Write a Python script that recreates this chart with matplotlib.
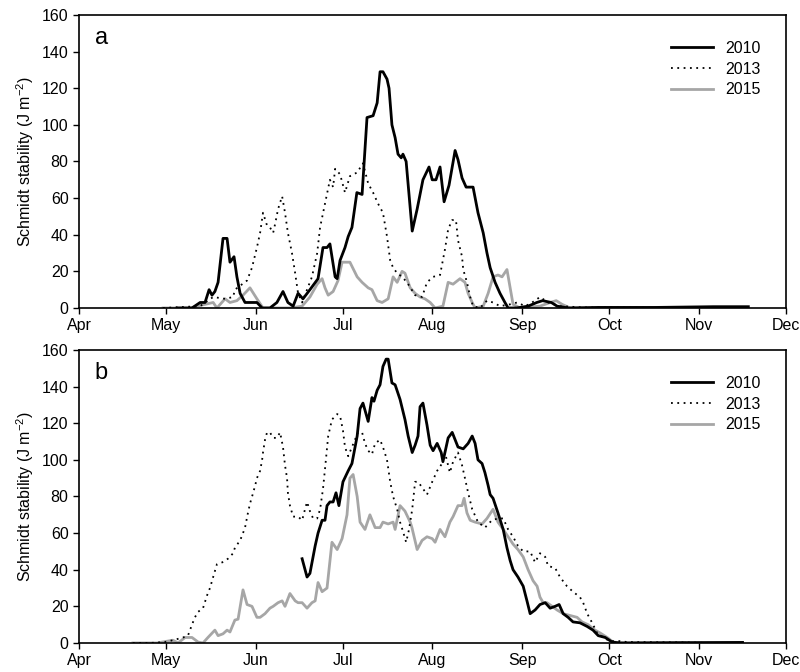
# Schmidt stability through the open-water season, three years, two panels
import numpy as np
import matplotlib.pyplot as plt

plt.rcParams['font.family'] = ['Liberation Sans', 'DejaVu Sans']
plt.rcParams['mathtext.default'] = 'regular'

# month ticks as day of year (non-leap)
month_days = [91, 121, 152, 182, 213, 244, 274, 305, 335]
month_labels = ['Apr', 'May', 'Jun', 'Jul', 'Aug', 'Sep', 'Oct', 'Nov', 'Dec']

# ---- panel a ----
a2010_day = [125, 130.0, 132.8, 134.5, 135.9, 136.9, 137.9, 139.0, 140.7, 142.1, 143.1, 144.5,
             145.5, 146.6, 148.3, 150.0, 152.4, 154.2, 156.9, 159.3, 161.4, 163.1, 164.9,
             166.6, 168.3, 170.7, 173.5, 175.2, 176.6, 177.6, 179.4, 180.1, 181.1, 182.8,
             183.9, 185.2, 186.9, 188.7, 190.4, 192.5, 193.9, 194.9, 195.9, 197.3, 198.0,
             199.0, 200.1, 201.1, 202.2, 202.8, 203.9, 206.0, 207.7, 209.7, 211.8, 212.9,
             214.2, 215.6, 217.0, 218.7, 220.8, 221.8, 223.2, 224.6, 227.0, 228.7, 230.5,
             231.8, 232.9, 234.6, 236.3, 238.0, 239.1, 242, 246, 249, 251, 254, 256, 260,
             270, 290, 300, 310, 322]
a2010_val = [0, 0, 3, 3, 10, 7, 9, 14, 38, 38, 25, 28,
             17, 8, 3, 3, 3, 0, 0, 3, 9, 3, 1,
             8, 5, 10, 16, 33, 33, 35, 17, 16, 26, 33,
             39, 44, 63, 62, 104, 105, 112, 129, 129, 125, 120,
             100, 93, 84, 82, 84, 80, 42, 54, 70, 77, 70,
             70, 77, 58, 67, 86, 81, 71, 66, 66, 52, 41,
             30, 22, 14, 8, 3, 0, 0, 1, 3, 4, 3, 1, 0,
             0.3, 0.3, 0.5, 0.7, 0.7]

a2013_day = [120, 132.8, 137.3, 141.4, 144.2, 144.8, 149.0, 150.7, 152.4, 153.5, 154.5, 155.9,
             156.9, 158.0, 158.7, 159.7, 161.1, 162.1, 163.1, 164.5, 165.6, 166.6, 168.0,
             169.7, 171.4, 173.2, 174.2, 175.9, 177.6, 178.7, 179.4, 181.1, 182.8, 184.5,
             187.0, 189.0, 190.8, 192.5, 194.2, 195.9, 197.3, 198.4, 199.4, 200.8, 202.5,
             204.2, 207.0, 209.4, 211.1, 213.2, 215.6, 217.3, 218.4, 219.8, 221.1, 221.8,
             223.2, 223.6, 224.9, 226.0, 227.0, 229.4, 231.8, 233.9, 236.3, 239.8, 242.2,
             245.0, 247.4, 250.1, 252.9, 257.0, 265, 280, 310]
a2013_val = [0, 1, 6, 5, 6, 10, 15, 22, 33, 41, 52, 45,
             44, 41, 46, 54, 61, 52, 41, 30, 19, 8, 3,
             10, 17, 30, 44, 57, 70, 66, 76, 73, 63, 72,
             74, 79, 68, 63, 57, 52, 39, 26, 22, 19, 17,
             14, 7, 6, 14, 17, 18, 32, 43, 48, 48, 37,
             28, 21, 14, 6, 1, 0, 4, 3, 1, 2, 3,
             1, 3, 6, 3, 1, 0.3, 0.2, 0]

a2015_day = [120, 129.3, 134.5, 137.3, 138.6, 141.4, 143.1, 145.5, 147.6, 150.0, 152.4, 154.5,
             156.9, 163.8, 168.0, 170.7, 173.2, 174.9, 175.9, 177.0, 178.7, 180.4, 181.8,
             182.8, 184.5, 187.0, 188.7, 190.8, 192.1, 193.9, 195.6, 197.7, 199.4, 200.8,
             202.5, 203.5, 205.3, 207.0, 208.7, 210.4, 212.2, 213.9, 216.6, 218.4, 220.1,
             222.5, 224.2, 225.3, 226.7, 227.7, 230.5, 232.2, 233.9, 235.6, 237.0, 238.7,
             239.8, 240.8, 243.2, 250.1, 253.6, 255.7, 257.7, 260.5, 300]
a2015_val = [0, 0, 2, 3, 0, 5, 3, 4, 7, 11, 5, 0,
             0, 0, 1, 6, 13, 16, 11, 7, 9, 15, 25,
             25, 25, 17, 14, 11, 10, 4, 3, 5, 17, 14,
             20, 19, 11, 8, 6, 5, 3, 0, 1, 14, 13,
             16, 14, 8, 3, 0, 1, 8, 17, 18, 17, 21,
             11, 2, 0, 1, 3, 4, 2, 0, 0]

# ---- panel b ----
b2010_day = [168.0, 169.7, 170.7, 172.5, 173.5, 174.9, 175.9, 176.6, 177.6, 178.7, 179.7, 180.7,
             182.1, 183.9, 185.2, 187.0, 188.0, 189.0, 190.8, 192.1, 192.8, 193.9, 194.9,
             195.9, 197.0, 197.7, 199.0, 200.1, 201.8, 203.5, 204.6, 206.0, 207.0, 208.0,
             208.7, 209.7, 211.1, 212.2, 213.2, 214.6, 216.0, 216.6, 218.4, 219.8, 221.8,
             223.6, 225.3, 226.7, 227.7, 228.7, 230.1, 231.1, 232.2, 232.9, 233.9, 235.6,
             237.4, 238.7, 239.8, 240.8, 242.5, 244.3, 245.6, 246.7, 248.4, 250.1, 251.9,
             253.6, 255.3, 256.7, 258.1, 259.8, 261.5, 263.9, 266.4, 268.4, 270.2, 272.6,
             275.0, 277.7, 300, 320]
b2010_val = [46, 36, 38, 53, 60, 67, 67, 75, 77, 77, 82, 75,
             88, 94, 98, 113, 128, 131, 121, 134, 132, 138, 141,
             151, 155, 155, 142, 141, 133, 122, 113, 104, 108, 113,
             129, 131, 119, 108, 105, 109, 104, 99, 112, 115, 107,
             106, 109, 113, 109, 100, 98, 93, 86, 81, 79, 71,
             62, 52, 45, 40, 36, 31, 23, 16, 18, 21, 22,
             19, 20, 21, 16, 14, 11.5, 11, 9, 7, 4, 3,
             0.5, 0, 0.2, 0.3]

b2013_day = [109.6, 115.5, 120.7, 123.4, 126.9, 128.6, 130.0, 131.0, 132.1, 133.8, 135.2, 136.2,
             137.3, 138.6, 140.4, 142.4, 144.2, 144.8, 146.6, 147.6, 148.3, 149.3, 150.0,
             151.1, 151.8, 152.4, 153.5, 154.2, 154.5, 155.2, 155.9, 156.9, 158.0, 159.3,
             160.4, 161.4, 162.1, 162.8, 163.1, 163.8, 164.9, 166.6, 168.0, 169.0, 169.7,
             170.7, 171.8, 173.2, 174.2, 175.2, 175.9, 177.0, 178.3, 180.1, 181.1, 182.1,
             182.8, 183.9, 185.2, 187.3, 188.7, 189.7, 190.8, 192.1, 193.2, 194.9, 195.9,
             197.3, 198.4, 199.4, 200.8, 201.8, 202.8, 203.9, 204.9, 206.0, 207.0, 208.0,
             209.4, 211.1, 212.9, 214.6, 216.3, 217.3, 219.0, 220.1, 221.8, 223.2, 224.2,
             225.3, 226.7, 228.7, 231.1, 233.5, 235.6, 237.4, 239.1, 240.8, 242.5, 244.3,
             246.7, 248.4, 250.1, 251.9, 252.9, 255.3, 257.0, 259.4, 261.5, 263.9, 265.0,
             266.4, 268.1, 269.8, 271.9, 274.3, 277.7, 280.2, 300, 310]
b2013_val = [0, 0, 0.5, 1.5, 3, 4, 10, 14, 17, 19, 26, 30,
             36, 43, 44, 46, 49, 52, 56, 60, 63, 71, 76,
             82, 86, 90, 94, 100, 104, 111, 115, 115, 112, 112,
             115, 107, 97, 90, 82, 75, 69, 69, 67, 73, 77,
             72, 68, 68, 73, 84, 95, 113, 122, 125, 124, 116,
             107, 102, 107, 115, 115, 109, 105, 103, 109, 111, 107,
             100, 88, 80, 73, 66, 61, 55, 62, 73, 88, 88,
             85, 81, 88, 94, 98, 104, 93, 99, 104, 97, 90,
             82, 73, 66, 63, 67, 68, 68, 62, 58, 53, 50,
             50, 44, 49, 47, 42, 41, 36, 31, 28, 25, 22,
             16, 11, 5.5, 3, 1, 1, 0.5, 0.3, 0]

b2015_day = [109.6, 117.9, 123.4, 125.2, 127.6, 130.0, 132.1, 133.8, 135.5, 137.9, 139.0, 140.7,
             142.1, 143.1, 144.8, 145.9, 147.6, 149.0, 150.7, 152.4, 153.5, 155.2, 156.9,
             158.0, 159.7, 161.1, 162.1, 163.8, 165.6, 166.6, 168.0, 169.7, 171.4, 172.5,
             173.5, 174.9, 176.6, 178.3, 180.1, 181.8, 183.5, 184.5, 185.6, 187.0, 188.0,
             189.7, 191.4, 193.2, 194.9, 195.9, 197.7, 199.4, 200.1, 201.8, 203.5, 205.3,
             205.9, 207.7, 209.4, 211.1, 212.9, 213.9, 215.6, 217.3, 219.0, 220.1, 221.8,
             223.2, 223.9, 224.9, 226.0, 227.7, 230.1, 231.8, 233.9, 235.6, 237.4, 239.1,
             240.8, 242.5, 244.3, 246.0, 247.7, 249.1, 250.1, 251.2, 252.5, 254.3, 256.0,
             258.1, 260.5, 262.9, 264.6, 266.7, 269.1, 270.8, 273.3, 275.3, 278.8, 300]
b2015_val = [0, 0, 1.5, 0, 3, 3, 0.5, 0, 3, 7, 4, 5,
             7, 6, 12.5, 13, 29, 21, 20, 14, 14, 16, 19,
             20, 22, 23, 20, 27, 23, 22, 22, 19, 22, 23,
             33, 28, 30, 55, 51, 57, 70, 90, 92, 80, 66,
             62, 70, 63, 63, 66, 65, 66, 62, 75, 72, 66,
             63, 51, 56, 58, 57, 55, 62, 58, 66, 69, 75,
             75, 79, 71, 67, 66, 65, 68, 73, 66, 62, 58,
             54, 51, 47, 40, 34, 31, 25, 22, 22, 20, 18,
             16, 15, 14, 11.5, 10, 7, 5.5, 3, 0.5, 0, 0]

panels = [
    ('a', (a2010_day, a2010_val), (a2013_day, a2013_val), (a2015_day, a2015_val)),
    ('b', (b2010_day, b2010_val), (b2013_day, b2013_val), (b2015_day, b2015_val)),
]

fig = plt.figure(figsize=(8, 6.72), dpi=100)
ax_pos = [[0.09875, 0.5417, 0.88375, 0.436],
          [0.09875, 0.0432, 0.88375, 0.436]]

for pos, (letter, s10, s13, s15) in zip(ax_pos, panels):
    ax = fig.add_axes(pos)
    ax.plot(s15[0], s15[1], color='#a6a6a6', lw=2, label='2015', zorder=2)
    ax.plot(s13[0], s13[1], color='black', lw=1.3, ls=(0, (1, 2.5)), label='2013', zorder=3)
    ax.plot(s10[0], s10[1], color='black', lw=2, label='2010', zorder=4)

    ax.set_xlim(91, 335)
    ax.set_ylim(0, 160)
    ax.set_xticks(month_days)
    ax.set_xticklabels(month_labels)
    ax.set_yticks(np.arange(0, 161, 20))
    ax.tick_params(direction='out', length=4, labelsize=11.5, width=1)
    for sp in ax.spines.values():
        sp.set_linewidth(1.2)
    ax.set_ylabel('Schmidt stability (J m$^{-2}$)', fontsize=11.5)
    ax.text(0.022, 0.96, letter, transform=ax.transAxes, fontsize=17,
            va='top', ha='left')

    handles, labels = ax.get_legend_handles_labels()
    order = [2, 1, 0]
    ax.legend([handles[i] for i in order], [labels[i] for i in order],
              loc='upper right', bbox_to_anchor=(0.985, 0.96), frameon=False,
              fontsize=11.5, handlelength=2.6, handletextpad=0.8,
              labelspacing=0.35)

fig.savefig('out.png', dpi=100)
